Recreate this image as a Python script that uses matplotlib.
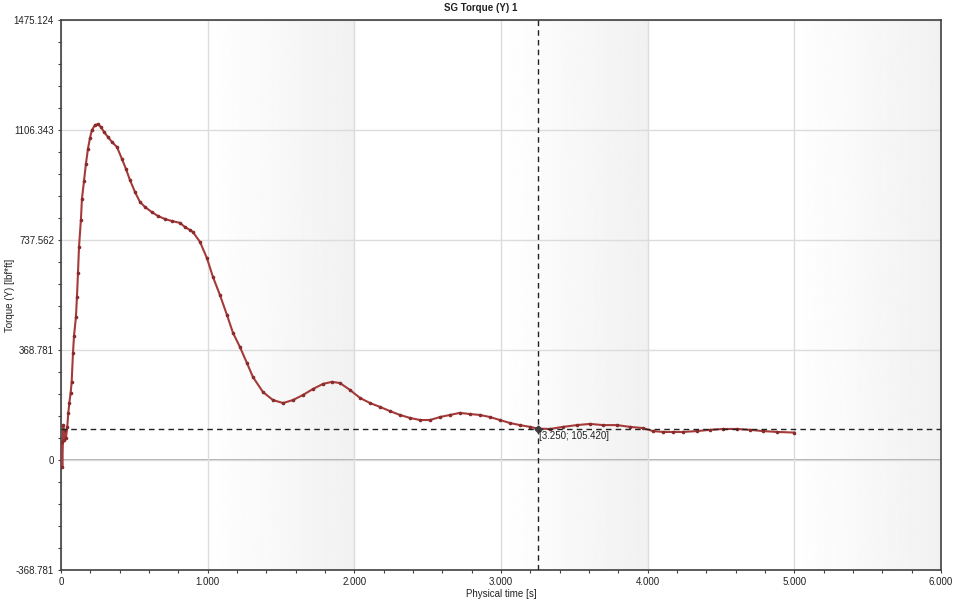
import numpy as np
import matplotlib
matplotlib.use("Agg")
import matplotlib.pyplot as plt
from matplotlib.ticker import FixedLocator, MultipleLocator

# values
time_s = [0.005, 0.009, 0.016, 0.020, 0.027, 0.034, 0.043, 0.050, 0.057, 0.066, 0.073,
          0.082, 0.089, 0.102, 0.109, 0.116, 0.123, 0.136, 0.143, 0.157, 0.170, 0.184,
          0.198, 0.211, 0.232, 0.252, 0.273, 0.293, 0.320, 0.348, 0.382, 0.416, 0.443,
          0.470, 0.505, 0.539, 0.573, 0.620, 0.661, 0.709, 0.757, 0.811, 0.845, 0.880,
          0.900, 0.948, 0.995, 1.036, 1.084, 1.132, 1.173, 1.220, 1.268, 1.309, 1.377,
          1.445, 1.514, 1.582, 1.650, 1.718, 1.786, 1.848, 1.902, 1.970, 2.039, 2.107,
          2.175, 2.243, 2.311, 2.380, 2.448, 2.516, 2.584, 2.652, 2.720, 2.789, 2.857,
          2.925, 2.993, 3.061, 3.129, 3.198, 3.250, 3.334, 3.423, 3.518, 3.607, 3.695,
          3.791, 3.880, 3.968, 4.036, 4.105, 4.173, 4.241, 4.336, 4.425, 4.514, 4.609,
          4.698, 4.786, 4.882, 5.000]
torque = [60, -22, 117, 67, 100, 74, 111, 157, 191, 225, 262,
          359, 416, 479, 546, 627, 714, 805, 875, 935, 992, 1043,
          1080, 1106, 1123, 1126, 1116, 1100, 1083, 1066, 1049, 1009, 976,
          939, 898, 865, 848, 831, 818, 808, 801, 795, 781, 771,
          764, 731, 677, 614, 553, 486, 426, 379, 325, 278, 228,
          201, 191, 201, 218, 238, 255, 262, 258, 235, 208, 191,
          178, 164, 151, 141, 134, 134, 144, 151, 158, 154, 151,
          144, 134, 124, 117, 111, 105.42, 104, 111, 117, 121, 117,
          117, 111, 107, 97, 94, 94, 94, 97, 101, 104, 104,
          101, 97, 94, 92]

cursor_t = 3.250
cursor_v = 105.420

y_ticks = [-368.781, 0, 368.781, 737.562, 1106.343, 1475.124]
y_labels = ["-368.781", "0", "368.781", "737.562", "1106.343", "1475.124"]
x_ticks = [0, 1, 2, 3, 4, 5, 6]
x_labels = ["0", "1.000", "2.000", "3.000", "4.000", "5.000", "6.000"]
shaded_bands = [(1, 2), (3, 4), (5, 6)]

plt.rcParams['font.family'] = ['Liberation Sans', 'DejaVu Sans']

fig = plt.figure(figsize=(9.6, 6), dpi=100)
ax = fig.add_axes([0.0635, 0.05, 0.9167, 0.9167])

ymin, ymax = y_ticks[0], y_ticks[-1]
ax.set_xlim(0, 6)
ax.set_ylim(ymin, ymax)

# gradient shading in alternating bands (white -> light grey)
grad = np.linspace(1.0, 0.945, 256).reshape(1, -1)
for a, b in shaded_bands:
    ax.imshow(grad, extent=(a, b, ymin, ymax), aspect='auto', cmap='gray',
              vmin=0, vmax=1, zorder=0, interpolation='bicubic')

ax.grid(True, color='#dcdcdc', linewidth=1, zorder=1)
ax.axhline(0, color='#a0a0a0', linewidth=1.2, zorder=1.5)

ax.plot(time_s, torque, color='#a63a3a', linewidth=1.5, marker='o',
        markersize=1.6, markerfacecolor='#8a2c2c', markeredgecolor='#8a2c2c', zorder=3)

# cursor crosshair
ax.axvline(cursor_t, color='#222222', linestyle=(0, (4, 3)), linewidth=1, zorder=4)
ax.axhline(cursor_v, color='#222222', linestyle=(0, (4, 3)), linewidth=1, zorder=4)
ax.plot([cursor_t], [cursor_v], marker='D', markersize=3.5, color='#3a3a3a', zorder=5)
ax.annotate(f"[{cursor_t:.3f}; {cursor_v:.3f}]", (cursor_t, cursor_v),
            xytext=(1, -1.5), textcoords='offset points', ha='left', va='top',
            fontsize=7, color='#222222', zorder=6)

ax.yaxis.set_major_locator(FixedLocator(y_ticks))
ax.set_yticklabels(y_labels)
ax.yaxis.set_minor_locator(MultipleLocator(368.781 / 5))
ax.xaxis.set_major_locator(FixedLocator(x_ticks))
ax.set_xticklabels(x_labels)
ax.xaxis.set_minor_locator(MultipleLocator(0.2))

ax.tick_params(which='both', direction='out', length=2.5, width=0.8, color='#404040',
               labelsize=7, pad=2.5, labelcolor='#222222')
for s in ax.spines.values():
    s.set_color('#404040')
    s.set_linewidth(1.2)

ax.set_xlabel("Physical time [s]", fontsize=7, color='#222222')
ax.xaxis.set_label_coords(0.5, -0.035)
ax.set_ylabel("Torque (Y) [lbf*ft]", fontsize=7, color='#222222')
ax.yaxis.set_label_coords(-0.052, 0.5)
fig.text(0.501, 0.987, "SG Torque (Y) 1", ha='center', va='center',
         fontsize=7, fontweight='bold', color='#222222')

fig.savefig("out.png", dpi=100)
